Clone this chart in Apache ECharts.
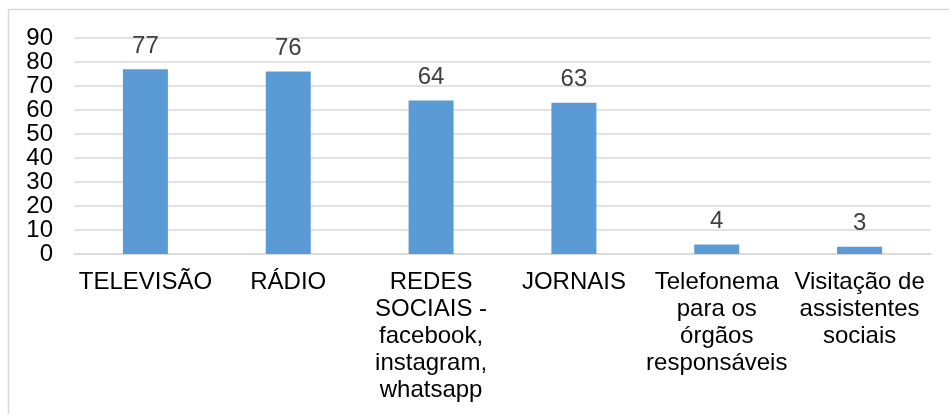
<!DOCTYPE html>
<html>
<head>
<meta charset="utf-8">
<script src="https://cdn.jsdelivr.net/npm/echarts@6/dist/echarts.min.js"></script>
<style>
html,body{margin:0;padding:0;background:#fff;}
#c{width:949px;height:414px;}
</style>
</head>
<body>
<div id="c"></div>
<script>
const categories = ["TELEVISÃO", "RÁDIO", "REDES\nSOCIAIS -\nfacebook,\ninstagram,\nwhatsapp", "JORNAIS", "Telefonema\npara os\nórgãos\nresponsáveis", "Visitação de\nassistentes\nsociais"];
const values = [77, 76, 64, 63, 4, 3];
const yMin = 0, yMax = 90, yStep = 10;

const chart = echarts.init(document.getElementById('c'), null, {renderer: 'canvas'});
const font = '"Liberation Sans", Arial, sans-serif';
chart.setOption({
  animation: false,
  backgroundColor: '#fff',
  graphic: [{
    type: 'rect',
    shape: {x: 8.5, y: 9.5, width: 960, height: 420},
    style: {fill: 'none', stroke: '#d9d9d9', lineWidth: 1.5},
    silent: true
  }],
  grid: {left: 74, right: 18, top: 38, bottom: 160, containLabel: false},
  xAxis: {
    type: 'category',
    data: categories,
    axisLine: {show: true, lineStyle: {color: '#d9d9d9', width: 1.5}},
    axisTick: {show: false},
    axisLabel: {
      interval: 0,
      color: '#000',
      fontSize: 24,
      fontFamily: font,
      lineHeight: 27,
      margin: 15,
      align: 'center'
    }
  },
  yAxis: {
    type: 'value',
    min: yMin, max: yMax, interval: yStep,
    axisLine: {show: false},
    axisTick: {show: false},
    splitLine: {show: true, lineStyle: {color: '#d9d9d9', width: 1.5}},
    axisLabel: {color: '#000', fontSize: 24, fontFamily: font, margin: 21}
  },
  series: [{
    type: 'bar',
    data: values,
    barWidth: '31.5%',
    itemStyle: {color: '#5B9BD5'},
    label: {
      show: true,
      position: 'top',
      distance: 11,
      color: '#404040',
      fontSize: 24,
      fontFamily: font
    }
  }]
});
</script>
</body>
</html>
